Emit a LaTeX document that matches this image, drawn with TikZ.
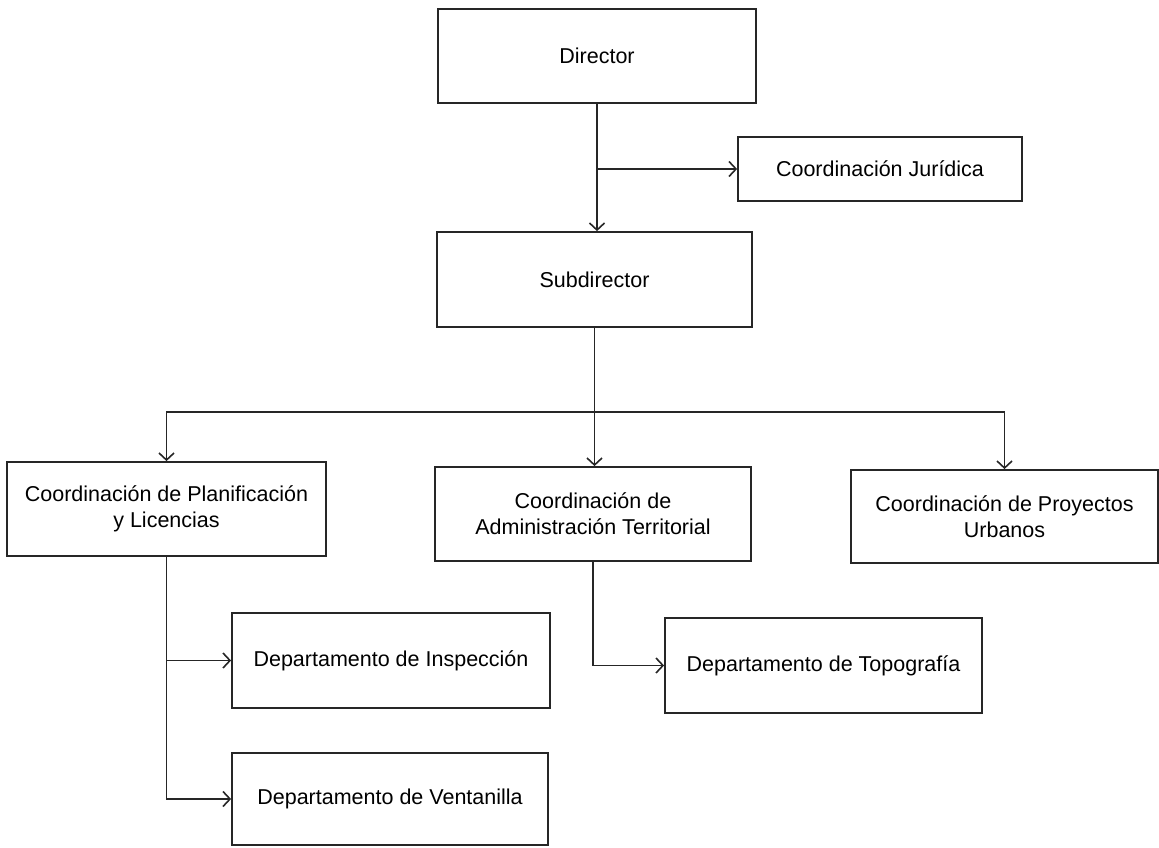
\documentclass[tikz,border=0pt]{standalone}
\usepackage{fontspec}
\setmainfont{Liberation Sans}
\usetikzlibrary{arrows.meta}
\begin{document}
\begin{tikzpicture}[x=1pt,y=-1pt,
  box/.style={draw=black!85, line width=1.8pt, rectangle, align=center, inner sep=0pt,
    font=\fontsize{21.5}{26}\selectfont},
  conn/.style={draw=black!85, line width=1.6pt},
  arr/.style={conn, -{Straight Barb[length=7pt,width=15pt,line width=1.6pt]}}]
\useasboundingbox[fill=white] (0,0) rectangle (1159,848);
\node[box, minimum width=318pt, minimum height=94pt] (dir) at (597,56) {Director};
\node[box, minimum width=284pt, minimum height=64pt] (jur) at (880,169) {Coordinación Jurídica};
\node[box, minimum width=315pt, minimum height=95pt] (sub) at (594.5,279.5) {Subdirector};
\node[box, minimum width=319pt, minimum height=94pt] (pla) at (166.5,509) {Coordinación de Planificación\\y Licencias};
\node[box, minimum width=316pt, minimum height=94pt] (adm) at (593,514) {Coordinación de\\Administración Territorial};
\node[box, minimum width=307pt, minimum height=93pt] (pro) at (1004.5,516.5) {Coordinación de Proyectos\\Urbanos};
\node[box, minimum width=318pt, minimum height=95pt] (ins) at (391,660.5) {Departamento de Inspección};
\node[box, minimum width=316pt, minimum height=92pt] (ven) at (390,799) {Departamento de Ventanilla};
\node[box, minimum width=317pt, minimum height=95pt] (top) at (823.5,665.5) {Departamento de Topografía};
\coordinate (bus) at (594,412);
% Director
\draw[arr] (dir.south) -- (dir.south |- sub.north);
\draw[arr] (dir.south |- jur.west) -- (jur.west);
% Subdirector
\draw[arr] (sub.south) -- (sub.south |- adm.north);
\draw[arr] (sub.south |- bus) -| (pla.north);
\draw[arr] (sub.south |- bus) -| (pro.north);
% Planificacion
\draw[arr] (pla.south) |- (ven.west);
\draw[arr] (pla.south |- ins.west) -- (ins.west);
% Administracion
\draw[arr] (adm.south) |- (top.west);
\end{tikzpicture}
\end{document}
